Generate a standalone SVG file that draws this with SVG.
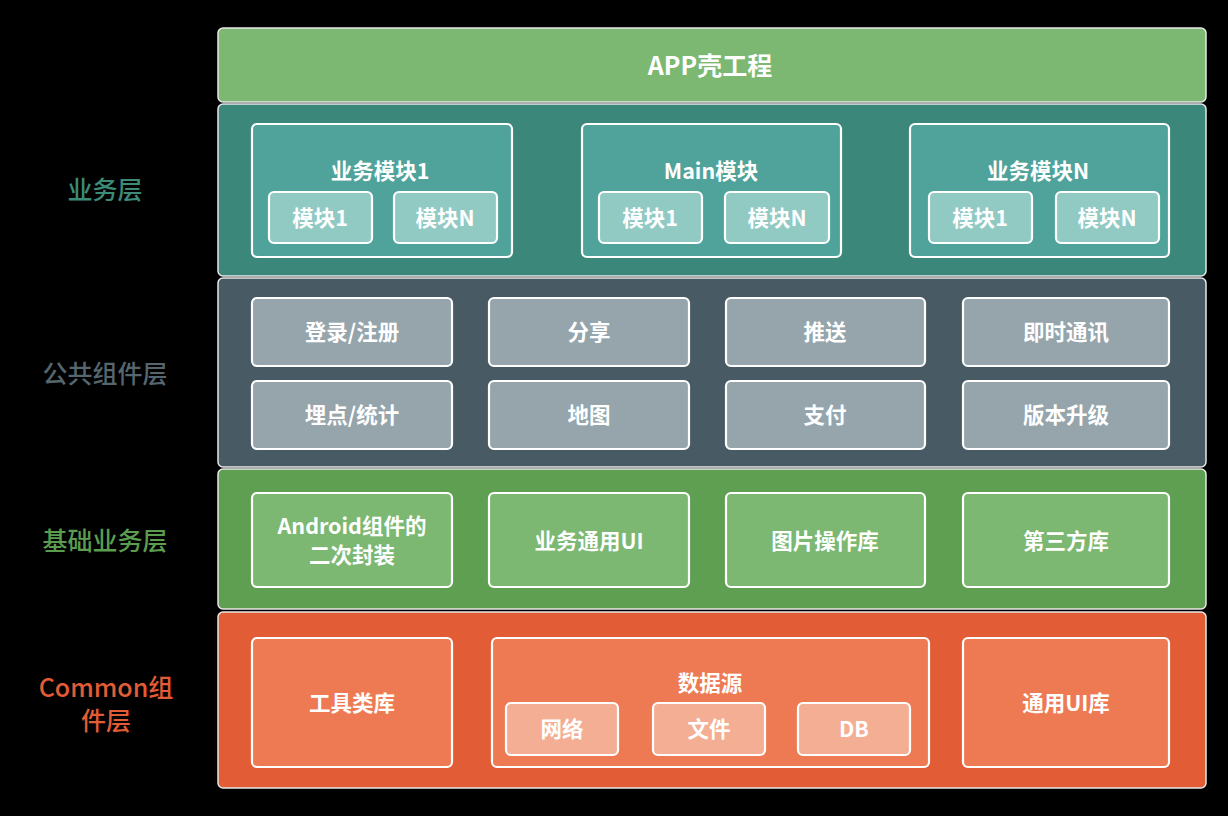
<svg xmlns="http://www.w3.org/2000/svg" width="1228" height="816" viewBox="0 0 1228 816">
<style>
text{font-family:"Noto Sans CJK SC","Microsoft YaHei","Liberation Sans",sans-serif;text-anchor:middle;dominant-baseline:central}
.t{fill:#fff;font-weight:bold;font-size:21.5px}
.big{font-size:25px}
.lab{font-size:25px;font-weight:500}
.layer{stroke:#e8e8e8;stroke-width:1.5}
.box{stroke:#fff;stroke-width:2.2}
.app{fill:#7db872}
.biz{fill:#3b877a}
.mod{fill:#4fa39a}
.sub{fill:#91c9c3}
.pub{fill:#485a63}
.pbox{fill:#95a5ab}
.base{fill:#5e9f52}
.bbox{fill:#7cb871}
.com{fill:#e25d35}
.cbox{fill:#ee7a53}
.csub{fill:#f3ae94}
</style>
<rect width="1228" height="816" fill="#000"/>

<g id="labels">
<text class="lab" x="105" y="188" fill="#3d8a78">业务层</text>
<text class="lab" x="105" y="372" fill="#55666e">公共组件层</text>
<text class="lab" x="105" y="539" fill="#5b9c4f">基础业务层</text>
<text class="lab" x="106" y="686" fill="#e25c35">Common组</text>
<text class="lab" x="106" y="719" fill="#e25c35">件层</text>
</g>

<g id="app-layer">
<rect class="layer app" x="218" y="28" width="988" height="74" rx="5"/>
<text class="t big" x="710" y="64">APP壳工程</text>
</g>

<g id="biz-layer">
<rect class="layer biz" x="218" y="104" width="988" height="172" rx="5"/>
<g id="biz-mod1">
<rect class="box mod" x="252" y="124" width="260" height="133" rx="5"/>
<text class="t" x="380" y="169">业务模块1</text>
<rect class="box sub" x="269" y="192" width="103" height="51" rx="5"/>
<text class="t" x="320" y="216">模块1</text>
<rect class="box sub" x="394" y="192" width="103" height="51" rx="5"/>
<text class="t" x="445" y="216">模块N</text>
</g>
<g id="main-mod">
<rect class="box mod" x="582" y="124" width="259" height="133" rx="5"/>
<text class="t" x="711" y="169">Main模块</text>
<rect class="box sub" x="599" y="192" width="103" height="51" rx="5"/>
<text class="t" x="650" y="216">模块1</text>
<rect class="box sub" x="725" y="192" width="104" height="51" rx="5"/>
<text class="t" x="777" y="216">模块N</text>
</g>
<g id="biz-modN">
<rect class="box mod" x="910" y="124" width="259" height="133" rx="5"/>
<text class="t" x="1038" y="169">业务模块N</text>
<rect class="box sub" x="929" y="192" width="103" height="51" rx="5"/>
<text class="t" x="980" y="216">模块1</text>
<rect class="box sub" x="1056" y="192" width="103" height="51" rx="5"/>
<text class="t" x="1107" y="216">模块N</text>
</g>
</g>

<g id="pub-layer">
<rect class="layer pub" x="218" y="278" width="988" height="189" rx="5"/>
<g id="login"><rect class="box pbox" x="252" y="298" width="200" height="68" rx="5"/><text class="t" x="352" y="330">登录/注册</text></g>
<g id="share"><rect class="box pbox" x="489" y="298" width="200" height="68" rx="5"/><text class="t" x="589" y="330">分享</text></g>
<g id="push"><rect class="box pbox" x="726" y="298" width="199" height="68" rx="5"/><text class="t" x="825" y="330">推送</text></g>
<g id="im"><rect class="box pbox" x="963" y="298" width="206" height="68" rx="5"/><text class="t" x="1066" y="330">即时通讯</text></g>
<g id="stat"><rect class="box pbox" x="252" y="381" width="200" height="68" rx="5"/><text class="t" x="352" y="413">埋点/统计</text></g>
<g id="map"><rect class="box pbox" x="489" y="381" width="200" height="68" rx="5"/><text class="t" x="589" y="413">地图</text></g>
<g id="pay"><rect class="box pbox" x="726" y="381" width="199" height="68" rx="5"/><text class="t" x="825" y="413">支付</text></g>
<g id="upgrade"><rect class="box pbox" x="963" y="381" width="206" height="68" rx="5"/><text class="t" x="1066" y="413">版本升级</text></g>
</g>

<g id="base-layer">
<rect class="layer base" x="218" y="469" width="988" height="140" rx="5"/>
<g id="android"><rect class="box bbox" x="252" y="493" width="200" height="94" rx="5"/><text class="t" x="352" y="524">Android组件的</text><text class="t" x="352" y="553">二次封装</text></g>
<g id="bizui"><rect class="box bbox" x="489" y="493" width="200" height="94" rx="5"/><text class="t" x="589" y="539">业务通用UI</text></g>
<g id="image"><rect class="box bbox" x="726" y="493" width="199" height="94" rx="5"/><text class="t" x="825" y="539">图片操作库</text></g>
<g id="third"><rect class="box bbox" x="963" y="493" width="206" height="94" rx="5"/><text class="t" x="1066" y="539">第三方库</text></g>
</g>

<g id="common-layer">
<rect class="layer com" x="218" y="612" width="988" height="176" rx="5"/>
<g id="tools"><rect class="box cbox" x="252" y="638" width="200" height="129" rx="5"/><text class="t" x="352" y="701">工具类库</text></g>
<g id="datasource">
<rect class="box cbox" x="492" y="638" width="437" height="129" rx="5"/>
<text class="t" x="710" y="681">数据源</text>
<rect class="box csub" x="506" y="703" width="112" height="52" rx="5"/><text class="t" x="562" y="727">网络</text>
<rect class="box csub" x="653" y="703" width="112" height="52" rx="5"/><text class="t" x="709" y="727">文件</text>
<rect class="box csub" x="798" y="703" width="112" height="52" rx="5"/><text class="t" x="854" y="727">DB</text>
</g>
<g id="commonui"><rect class="box cbox" x="963" y="638" width="206" height="129" rx="5"/><text class="t" x="1066" y="701">通用UI库</text></g>
</g>

<g id="connectors"></g>
</svg>
